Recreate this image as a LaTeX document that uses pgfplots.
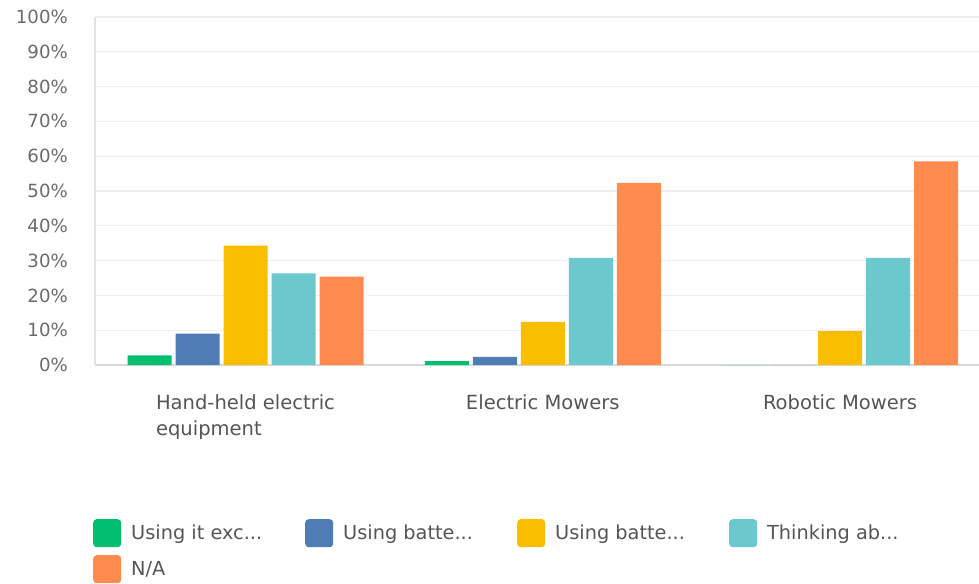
\documentclass[border=0pt]{standalone}
\usepackage{fontspec}
\setmainfont{DejaVu Sans}
\newfontfamily\tickfont{DejaVu Sans}
\usepackage{pgfplots}
\pgfplotsset{compat=1.18}

\definecolor{cGreen}{HTML}{00BF6F}
\definecolor{cBlue}{HTML}{507CB6}
\definecolor{cYellow}{HTML}{F9BE00}
\definecolor{cTeal}{HTML}{6BC8CD}
\definecolor{cOrange}{HTML}{FF8B4F}
\definecolor{gridgray}{HTML}{EEEEEE}
\definecolor{axisgray}{HTML}{D9D9D9}
\definecolor{ticktext}{HTML}{6B6B6B}
\definecolor{labeltext}{HTML}{555555}

\pgfplotsset{
  sqlegend/.style={
    legend image code/.code={
      \fill[##1, draw=none, rounded corners=3.5bp] (0bp,-14bp) rectangle (28bp,14bp);
    }
  }
}

\begin{document}
\begin{tikzpicture}
\fill[white] (0,0) rectangle (979bp,584bp);
\path[use as bounding box] (0,0) rectangle (979bp,584bp);
\begin{axis}[
  at={(95bp,219bp)}, anchor=south west,
  scale only axis,
  width=884bp, height=348bp,
  ybar=4bp, bar width=44bp,
  xmin=-0.5063, xmax=2.4676,
  ymin=0, ymax=100,
  clip=false,
  axis x line*=bottom, axis y line*=left,
  x axis line style={draw=axisgray, line width=1.6bp, -},
  y axis line style={draw=gridgray!90!gray, line width=1.2bp, -},
  major tick length=0pt,
  ymajorgrids, major grid style={draw=gridgray, line width=1.3bp},
  ytick={0,10,...,100},
  yticklabels={0\%,10\%,20\%,30\%,40\%,50\%,60\%,70\%,80\%,90\%,100\%},
  yticklabel style={font=\tickfont\fontsize{18.2}{20}\selectfont, text=ticktext,
    anchor=east, inner sep=0pt, xshift=-27bp},
  xtick={0,1,2},
  xticklabels={{Hand-held electric\\equipment},{Electric Mowers},{Robotic Mowers}},
  xticklabel style={font=\fontsize{19.6}{26}\selectfont, text=labeltext,
    align=left, anchor=north, inner sep=0pt, yshift=-29.5bp},
  legend columns=4,
  legend style={at={(rel axis cs:-0.00226,-0.4425)}, anchor=north west,
    draw=none, fill=none, inner sep=0pt,
    font=\fontsize{19.4}{22}\selectfont, text=labeltext,
    row sep=8bp,
    /tikz/every odd column/.append style={column sep=8bp},
    cells={anchor=west, inner sep=0pt}},
]
\addplot[fill=cGreen, draw=none, sqlegend] coordinates {(0,2.8) (1,1.1) (2,0)};
\addplot[fill=cBlue, draw=none, sqlegend] coordinates {(0,9.0) (1,2.3) (2,0)};
\addplot[fill=cYellow, draw=none, sqlegend] coordinates {(0,34.3) (1,12.4) (2,9.7)};
\addplot[fill=cTeal, draw=none, sqlegend] coordinates {(0,26.3) (1,30.8) (2,30.8)};
\addplot[fill=cOrange, draw=none, sqlegend] coordinates {(0,25.4) (1,52.3) (2,58.5)};
\addlegendentry{\makebox[172bp][l]{Using it exc...}}
\addlegendentry{\makebox[172bp][l]{Using batte...}}
\addlegendentry{\makebox[172bp][l]{Using batte...}}
\addlegendentry{\makebox[172bp][l]{Thinking ab...}}
\addlegendentry{\makebox[172bp][l]{N/A}}
\end{axis}
\end{tikzpicture}
\end{document}
